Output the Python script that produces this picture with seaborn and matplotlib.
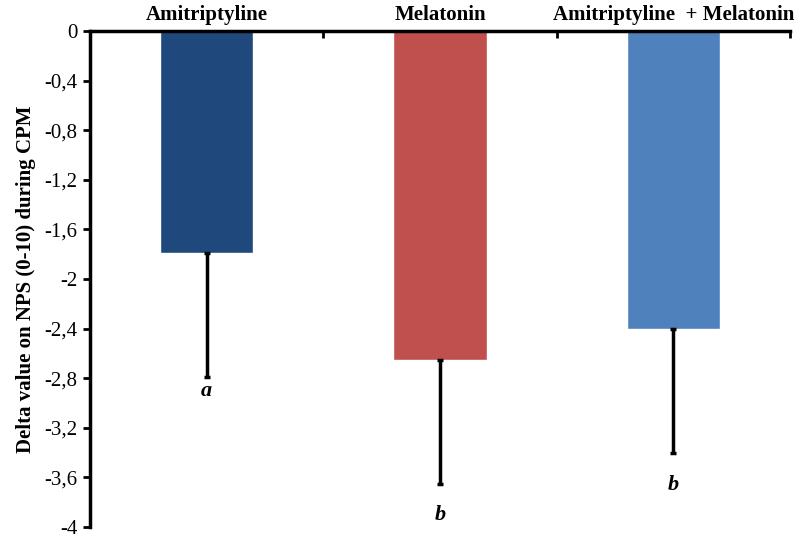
import matplotlib
matplotlib.use("Agg")
import matplotlib.pyplot as plt
import seaborn as sns
import numpy as np
import pandas as pd

# values
groups = ["Amitriptyline", "Melatonin", "Amitriptyline  + Melatonin"]
delta = [-1.79, -2.65, -2.40]
err = [1.0, 1.0, 1.0]
letters = ["a", "b", "b"]
letter_y = [-2.9, -3.9, -3.66]
colors = ["#1F497D", "#C0504D", "#4F81BD"]
yticks = [0, -0.4, -0.8, -1.2, -1.6, -2, -2.4, -2.8, -3.2, -3.6, -4]

df = pd.DataFrame({"group": groups, "delta": delta})

sns.set_style("white")
plt.rcParams["font.family"] = ["Liberation Serif", "DejaVu Serif"]
plt.rcParams["text.color"] = "black"
plt.rcParams["xtick.color"] = "black"
plt.rcParams["ytick.color"] = "black"
plt.rcParams["axes.labelcolor"] = "black"

fig = plt.figure(figsize=(8.02, 5.36), dpi=100)
ax = fig.add_axes([90 / 802, 1 - 527 / 536, 700 / 802, 496 / 536])

sns.barplot(data=df, x="group", y="delta", hue="group", palette=colors,
            width=0.4, legend=False, ax=ax, saturation=1)

# downward error bars only
x = np.arange(len(groups))
ax.errorbar(x, delta, yerr=[err, np.zeros(len(err))], fmt="none",
            ecolor="black", elinewidth=2.5, capsize=2, capthick=2.5)

for xi, lab, ly in zip(x, letters, letter_y):
    ax.text(xi, ly, lab, ha="center", va="center", fontsize=16,
            fontweight="bold", fontstyle="italic")

ax.set_xlim(-0.5, 2.5)
ax.set_ylim(-4, 0)
ax.set_yticks(yticks)
ax.set_yticklabels([("%g" % t).replace(".", ",") for t in yticks], fontsize=15)

# category names on top, separator ticks between groups
ax.xaxis.set_ticks_position("top")
ax.set_xticks(x)
ax.set_xticklabels(groups, fontsize=15, fontweight="bold")
ax.tick_params(axis="x", which="major", length=0, pad=4)
ax.set_xticks([0.5, 1.5, 2.5], minor=True)
ax.tick_params(axis="x", which="minor", direction="in", length=5, width=2)
ax.tick_params(axis="y", direction="out", length=5, width=2, left=True, pad=4)
ax.set_xlabel("")
ax.set_ylabel("Delta value on NPS (0-10) during CPM", fontsize=15,
              fontweight="bold", labelpad=6)

for side in ["right", "bottom"]:
    ax.spines[side].set_visible(False)
for side in ["left", "top"]:
    ax.spines[side].set_linewidth(2.5)
    ax.spines[side].set_color("black")

fig.savefig("out.png", dpi=100)
